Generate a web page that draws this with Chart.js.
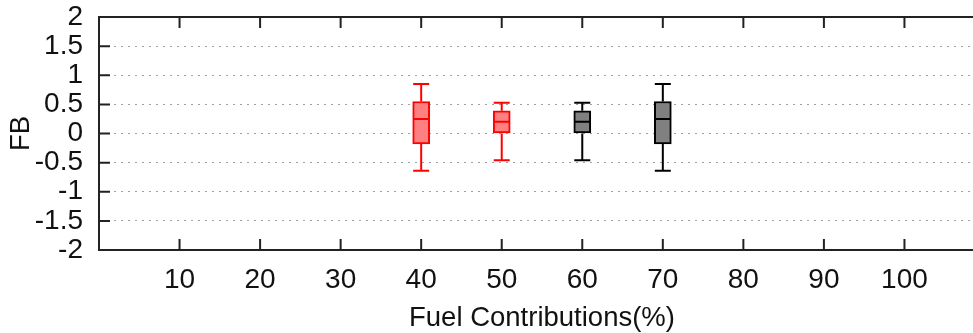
<!DOCTYPE html>
<html>
<head>
<meta charset="utf-8">
<script src="https://cdn.jsdelivr.net/npm/chart.js@4.4.1/dist/chart.umd.min.js"></script>
<style>
  html, body { margin: 0; padding: 0; background: #fff; overflow: hidden; }
  #wrap { width: 1000px; height: 333px; }
</style>
</head>
<body>
<div id="wrap"><canvas id="fbChart"></canvas></div>
<script>
// ---- Data ----
const positions = [40, 50, 60, 70];
const whiskerLow = [-0.64, -0.46, -0.46, -0.64];
const lowerQuartile = [-0.18, 0.0, 0.0, -0.18];
const medians = [0.25, 0.2, 0.2, 0.25];
const upperQuartile = [0.55, 0.39, 0.39, 0.55];
const whiskerHigh = [0.85, 0.53, 0.53, 0.85];

const xTicks = [10, 20, 30, 40, 50, 60, 70, 80, 90, 100];
const yTicks = [-2, -1.5, -1, -0.5, 0, 0.5, 1, 1.5, 2];
const yTickLabels = ["-2", "-1.5", "-1", "-0.5", "0", "0.5", "1", "1.5", "2"];

// ---- Styles ----
const strokeColors = ["#ff0000", "#ff0000", "#000000", "#000000"];
const fillColors = ["#ff8080", "#ff8080", "#808080", "#808080"];
const axisColor = "#222222";
const fontFamily = "'Liberation Sans', Arial, Helvetica, sans-serif";

// whiskers + medians, drawn through the scales
const boxExtras = {
  id: "boxExtras",
  afterDatasetsDraw(chart) {
    const { ctx, scales: { x, y } } = chart;
    const half = 8;
    ctx.save();
    ctx.lineWidth = 2;
    positions.forEach((pos, i) => {
      const px = x.getPixelForValue(pos);
      ctx.strokeStyle = strokeColors[i];
      ctx.beginPath();
      // upper whisker + cap
      ctx.moveTo(px, y.getPixelForValue(upperQuartile[i]));
      ctx.lineTo(px, y.getPixelForValue(whiskerHigh[i]));
      ctx.moveTo(px - half, y.getPixelForValue(whiskerHigh[i]));
      ctx.lineTo(px + half, y.getPixelForValue(whiskerHigh[i]));
      // lower whisker + cap
      ctx.moveTo(px, y.getPixelForValue(lowerQuartile[i]));
      ctx.lineTo(px, y.getPixelForValue(whiskerLow[i]));
      ctx.moveTo(px - half, y.getPixelForValue(whiskerLow[i]));
      ctx.lineTo(px + half, y.getPixelForValue(whiskerLow[i]));
      // median
      ctx.moveTo(px - half, y.getPixelForValue(medians[i]));
      ctx.lineTo(px + half, y.getPixelForValue(medians[i]));
      ctx.stroke();
    });
    ctx.restore();
  }
};

// top border and inward tick marks (gnuplot style)
const frameTicks = {
  id: "frameTicks",
  afterDraw(chart) {
    const { ctx, chartArea: a, scales: { x, y } } = chart;
    const len = 11;
    ctx.save();
    ctx.strokeStyle = axisColor;
    ctx.lineWidth = 2;
    ctx.beginPath();
    ctx.moveTo(a.left - 1, a.top);
    ctx.lineTo(a.right, a.top);
    xTicks.forEach((v) => {
      const px = x.getPixelForValue(v);
      ctx.moveTo(px, a.bottom);
      ctx.lineTo(px, a.bottom - len);
      ctx.moveTo(px, a.top);
      ctx.lineTo(px, a.top + len);
    });
    yTicks.forEach((v) => {
      const py = y.getPixelForValue(v);
      ctx.moveTo(a.left, py);
      ctx.lineTo(a.left + len, py);
    });
    ctx.stroke();
    ctx.restore();
  }
};

const ctx = document.getElementById("fbChart");

new Chart(ctx, {
  type: "bar",
  data: {
    datasets: [
      {
        label: "FB",
        data: positions.map((p, i) => ({ x: p, y: [lowerQuartile[i], upperQuartile[i]] })),
        backgroundColor: fillColors,
        borderColor: strokeColors,
        borderWidth: 2,
        borderSkipped: false,
        barThickness: 17,
      },
    ],
  },
  options: {
    responsive: true,
    maintainAspectRatio: false,
    animation: false,
    layout: { padding: { top: 17, right: 15, left: 0, bottom: 0 } },
    plugins: {
      legend: { display: false },
      tooltip: { enabled: false },
    },
    scales: {
      x: {
        type: "linear",
        min: 0,
        max: 110,
        offset: false,
        afterBuildTicks: (scale) => {
          scale.ticks = xTicks.map((v) => ({ value: v }));
        },
        afterFit: (scale) => {
          scale.height = 83;
          scale.paddingLeft = 0;
          scale.paddingRight = 0;
        },
        grid: { display: false },
        border: { display: true, color: axisColor, width: 2 },
        ticks: {
          color: "#111",
          padding: 5,
          maxRotation: 0,
          autoSkip: false,
          font: { family: fontFamily, size: 28 },
        },
        title: {
          display: true,
          text: "Fuel Contributions(%)",
          color: "#111",
          padding: { top: 0, bottom: -2 },
          font: { family: fontFamily, size: 27.5 },
        },
      },
      y: {
        type: "linear",
        min: -2,
        max: 2,
        afterBuildTicks: (scale) => {
          scale.ticks = yTicks.map((v) => ({ value: v }));
        },
        afterFit: (scale) => {
          scale.width = 99;
          scale.paddingTop = 0;
          scale.paddingBottom = 0;
        },
        grid: {
          color: "#a0a0a0",
          lineWidth: 1,
          drawTicks: false,
        },
        border: { display: true, color: axisColor, width: 2, dash: [2, 5] },
        ticks: {
          color: "#111",
          padding: 16,
          autoSkip: false,
          font: { family: fontFamily, size: 28 },
          callback: (value, index) => yTickLabels[index],
        },
        title: {
          display: true,
          text: "FB",
          color: "#111",
          padding: { top: 5, bottom: 0 },
          font: { family: fontFamily, size: 27.5 },
        },
      },
    },
  },
  plugins: [boxExtras, frameTicks],
});
</script>
</body>
</html>
